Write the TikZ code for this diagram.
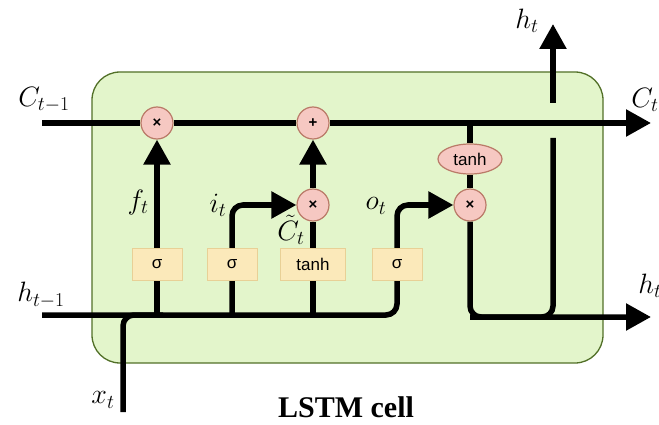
\RequirePackage{fix-cm}
\documentclass[tikz,border=0pt]{standalone}
\usepackage{fontspec}
\newfontfamily\gatefont{Liberation Sans}
\newfontfamily\capfont{Liberation Serif}
\usetikzlibrary{arrows.meta,shapes.geometric}
\definecolor{cellfill}{RGB}{227,245,203}
\definecolor{celldraw}{RGB}{82,112,40}
\definecolor{gatefill}{RGB}{251,233,186}
\definecolor{gatedraw}{RGB}{232,208,150}
\definecolor{opfill}{RGB}{246,200,194}
\definecolor{opdraw}{RGB}{186,122,104}
\pgfdeclarelayer{bgbox}
\pgfdeclarelayer{bglines}
\pgfsetlayers{bgbox,bglines,main}
\tikzset{
  wire/.style={line width=5.5pt, black},
  arrwire/.style={wire, -{Triangle[length=25pt,width=26pt]}},
  gatebox/.style={draw=gatedraw, fill=gatefill, line width=0.8pt, minimum width=50pt, minimum height=32pt, inner sep=0pt, font=\gatefont\fontsize{17}{17}\selectfont},
  opnode/.style={circle, draw=opdraw, fill=opfill, line width=1.2pt, minimum size=32pt, inner sep=0pt, font=\gatefont\bfseries\fontsize{15}{15}\selectfont},
  opell/.style={ellipse, draw=opdraw, fill=opfill, line width=1.2pt, minimum width=64pt, minimum height=30pt, inner sep=0pt, font=\gatefont\fontsize{17}{17}\selectfont},
  lbl/.style={inner sep=0pt, font=\fontsize{28}{28}\selectfont},
}
\begin{document}
\begin{tikzpicture}[x=1pt,y=-1pt]
\useasboundingbox (0,0) rectangle (659,425);
% cell
\begin{pgfonlayer}{bgbox}
\node[draw=celldraw, fill=cellfill, line width=1.3pt, rounded corners=28pt, minimum width=511pt, minimum height=291pt, inner sep=0pt] (cell) at (347.5,217.5) {};
\end{pgfonlayer}
% coordinates
\coordinate (cin) at (42,123);
\coordinate (cout) at (651,123);
\coordinate (hin) at (42,315);
\coordinate (hrow) at (0,315);
\coordinate (hout) at (651,317);
\coordinate (xbot) at (123,412);
\coordinate (htlow) at (553,138);
\coordinate (hthigh) at (553,103);
\coordinate (htop) at (553,24);
% operator nodes
\node[opnode] (f) at (157,123) {×};
\node[opnode] (plus) at (313,123) {+};
\node[opnode] (mi) at (313,205) {×};
\node[opnode] (mo) at (470,205) {×};
\node[opell] (th) at (470,159) {tanh};
% gates
\node[gatebox] (gf) at (157,264) {σ};
\node[gatebox] (gi) at (232,264) {σ};
\node[gatebox, minimum width=65pt] (gc) at (313,264) {tanh};
\node[gatebox] (go) at (397,264) {σ};
% wires
\begin{pgfonlayer}{bglines}
\draw[wire] (cin) -- (f);
\draw[wire] (f) -- (plus);
\draw[arrwire] (plus) -- (cout);
\draw[arrwire] (gf |- hrow) -- (f);
\draw[arrwire, rounded corners=11pt] (gi |- hrow) -- (gi |- mi) -- (mi);
\draw[wire] (gc |- hrow) -- (mi);
\draw[arrwire] (mi) -- (plus);
\draw[arrwire, rounded corners=11pt] (hin) -- (go |- hrow) -- (go |- mo) -- (mo);
\draw[wire, rounded corners=11pt] (xbot) -- (xbot |- hrow) -- ++(40,0);
\draw[wire] (mo |- cin) -- (th);
\draw[wire] (th) -- (mo);
\draw[arrwire, rounded corners=11pt] (mo) -- (mo |- hout) -- (hout);
\draw[wire, rounded corners=11pt] (mo |- hout) -- (htlow |- hout) -- (htlow);
\draw[arrwire] (hthigh) -- (htop);
\end{pgfonlayer}
% labels
\node[lbl] (lc0) at (44,100) {$C_{t-1}$};
\node[lbl] (lh0) at (41,295) {$h_{t-1}$};
\node[lbl] (lx) at (103,400) {$x_t$};
\node[lbl] (lf) at (138,202) {$f_t$};
\node[lbl] (li) at (218,205) {$i_t$};
\node[lbl] (lct) at (291,230) {$\tilde{C}_t$};
\node[lbl] (lo) at (376,206) {$o_t$};
\node[lbl] (lht) at (527,21) {$h_t$};
\node[lbl] (lc1) at (645,100) {$C_t$};
\node[lbl] (lh1) at (650,286) {$h_t$};
\node[inner sep=0pt, font=\capfont\bfseries\fontsize{30}{30}\selectfont] (title) at (346,407) {LSTM cell};
\end{tikzpicture}
\end{document}
